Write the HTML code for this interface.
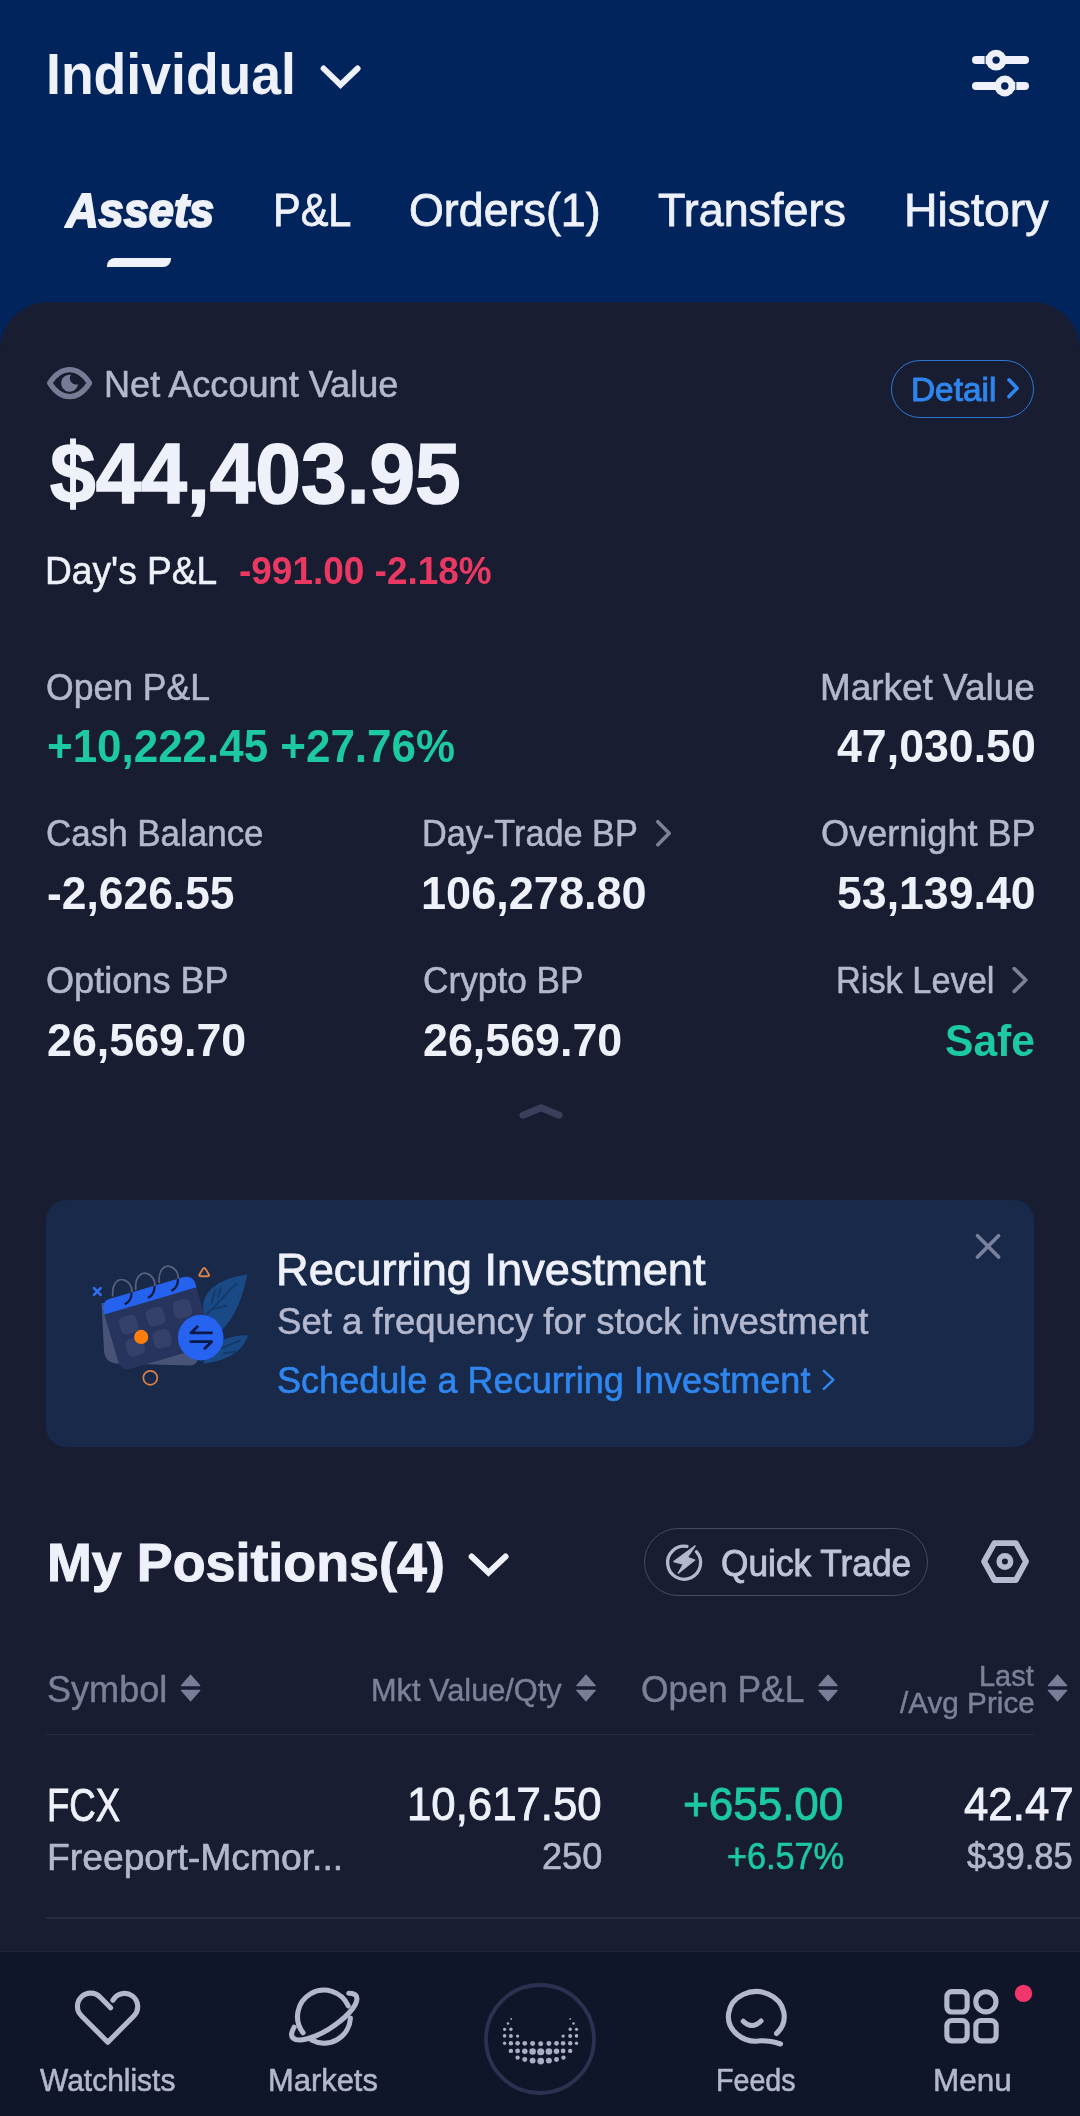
<!DOCTYPE html>
<html><head><meta charset="utf-8"><title>Webull - Assets</title>
<style>
*{margin:0;padding:0;box-sizing:border-box}
html,body{width:1080px;height:2116px;overflow:hidden;background:#02245c}
body{position:relative;font-family:"Liberation Sans",sans-serif}
.t{position:absolute;white-space:nowrap;transform-origin:0 0;display:block}
.abs{position:absolute}
#header{left:0;top:0;width:1080px;height:360px;background:#02245c}
#panel{left:0;top:302px;width:1080px;height:1814px;background:#181d31;border-radius:48px 48px 0 0}
#underline{left:107px;top:258px;width:64.4px;height:9px;background:#eef1fa;border-radius:8px 0 8px 0}
#detailbtn{left:891px;top:360px;width:143px;height:58px;border:1.6px solid #2e77d8;border-radius:29px}
#card{left:46px;top:1200px;width:988px;height:247px;background:#19294a;border-radius:20px}
#quickbtn{left:644px;top:1528px;width:284px;height:68px;border:1.5px solid #434a63;border-radius:34px}
#hdiv{left:46px;top:1733.5px;width:988px;height:1.3px;background:#262c44}
#rdiv{left:46px;top:1917.4px;width:1034px;height:1.3px;background:#262c44}
#nav{left:0;top:1951px;width:1080px;height:165px;background:#10162a;border-top:1.4px solid #1e243a}
#txt{left:0;top:0;width:1080px;height:2116px;will-change:transform}
#icons{left:0;top:0;width:1080px;height:2116px}
</style></head>
<body>
<div class="abs" id="header"></div>
<div class="abs" id="panel"></div>
<div class="abs" id="underline"></div>
<div class="abs" id="detailbtn"></div>
<div class="abs" id="card"></div>
<div class="abs" id="quickbtn"></div>
<div class="abs" id="hdiv"></div>
<div class="abs" id="rdiv"></div>
<div class="abs" id="nav"></div>
<svg class="abs" id="icons" width="1080" height="2116" viewBox="0 0 1080 2116" fill="none">
<path d="M204.5 1315 C198 1296 214 1279 247.3 1274.5 C243 1296 236 1316 222 1330 Z" fill="#194a86"/>
<path d="M207 1314 L236 1284 M211.5 1303 L215 1291 M214 1309 L226 1305.5 M218 1297 L221 1288" stroke="#153a6c" stroke-width="2" stroke-linecap="round"/>
<path d="M203 1363.5 C210 1344 226 1335 248 1335.3 C243 1351 228 1361 203 1363.5Z" fill="#194a86"/>
<path d="M222 1348 L240 1340.5 M224 1353.5 L236 1351.5" stroke="#153a6c" stroke-width="2" stroke-linecap="round"/>
<path d="M101.5 1303 L104 1350 Q104.5 1362 116 1363.5 L190 1365.5 Q197 1365.5 198 1358 L185 1300 Z" fill="#475377"/>
<g transform="translate(100.6 1301.6) rotate(-16.4)">
<rect x="0" y="0" width="96" height="73" rx="9" fill="#27345d"/>
<path d="M0 13.4 V9 a9 9 0 0 1 9 -9 H87 a9 9 0 0 1 9 9 V13.4 Z" fill="#2563ee"/>
<rect x="11.5" y="21" width="18" height="18" rx="5.5" fill="#36416b"/>
<rect x="39.5" y="21" width="18" height="18" rx="5.5" fill="#36416b"/>
<rect x="67.5" y="21" width="18" height="18" rx="5.5" fill="#36416b"/>
<rect x="11.5" y="44" width="18" height="18" rx="5.5" fill="#36416b"/>
<rect x="39.5" y="44" width="18" height="18" rx="5.5" fill="#36416b"/>
</g>
<circle cx="141.2" cy="1336.9" r="7.1" fill="#ff7d0c"/>
<path d="M112.7 1295.8 C111.8 1283.3 118.3 1278.3 123.3 1279.8 C129.3 1281.3 132.8 1287.3 131.6 1293.3" stroke="#59617f" stroke-width="1.7" stroke-linecap="round"/>
<path d="M131.6 1293.3 C131.3 1298.3 128.8 1302.3 125.6 1303.8" stroke="#0e1a3c" stroke-width="2.2" stroke-linecap="round"/>
<path d="M135.7 1289.4 C134.8 1276.9 141.3 1271.9 146.3 1273.4 C152.3 1274.9 155.8 1280.9 154.6 1286.9" stroke="#59617f" stroke-width="1.7" stroke-linecap="round"/>
<path d="M154.6 1286.9 C154.3 1291.9 151.8 1295.9 148.6 1297.4" stroke="#0e1a3c" stroke-width="2.2" stroke-linecap="round"/>
<path d="M159.1 1282.4 C158.2 1269.9 164.7 1264.9 169.7 1266.4 C175.7 1267.9 179.2 1273.9 178.0 1279.9" stroke="#59617f" stroke-width="1.7" stroke-linecap="round"/>
<path d="M178.0 1279.9 C177.7 1284.9 175.2 1288.9 172.0 1290.4" stroke="#0e1a3c" stroke-width="2.2" stroke-linecap="round"/>
<circle cx="200.7" cy="1337.6" r="22.8" fill="#2563f0"/>
<path d="M197.3 1326.8 L190.8 1332.9 H211.6 M211.6 1341.7 H190.8 M211.6 1341.7 L204.8 1348.6" stroke="#0c1948" stroke-width="2.8" stroke-linecap="round" stroke-linejoin="round"/>
<path d="M94 1288.2 L100.6 1294.8 M100.6 1288.2 L94 1294.8" stroke="#2f6ff0" stroke-width="2.6" stroke-linecap="round"/>
<path d="M202.5 1269.6 Q204.2 1266.4 205.9 1269.6 L208.7 1274.2 Q209.9 1276.3 207.4 1276.3 H201 Q198.5 1276.3 199.7 1274.2 Z" stroke="#d9804a" stroke-width="1.9" stroke-linejoin="round"/>
<circle cx="150.3" cy="1377.8" r="7" stroke="#d9804a" stroke-width="1.7"/>
<path d="M323.6 68.5 L340.5 84.8 L357.6 68.5" stroke="#eef1fa" stroke-width="5.9" stroke-linecap="round" stroke-linejoin="miter"/>
<g stroke="#eef1fa" stroke-width="8" stroke-linecap="round"><path d="M976 60.1H1025"/><path d="M976 86H1025"/></g>
<g fill="#eef1fa"><circle cx="996.1" cy="60.1" r="10.4"/><circle cx="1004.8" cy="86" r="10.4"/></g>
<g fill="#02245c"><circle cx="996.1" cy="60.1" r="3.7"/><circle cx="1004.8" cy="86" r="3.7"/><rect x="984.6" y="55" width="1" height="10.2"/><rect x="1015.3" y="81" width="1" height="10.2"/></g>
<path d="M49.6 383 C56 373 62 369.6 69.6 369.6 S83.2 373 89.6 383 C83.2 393 77.2 396.6 69.6 396.6 S56 393 49.6 383Z" stroke="#767c95" stroke-width="5.2" stroke-linejoin="round"/>
<path d="M71.06 374.83 A8.5 8.5 0 1 0 78.05 384.15 A6.1 6.1 0 0 1 71.06 374.83Z" fill="#767c95"/>
<path d="M1009 379.8 L1017.1 388.2 L1009 396.6" stroke="#2f86ee" stroke-width="3.6" stroke-linecap="round" stroke-linejoin="round"/>
<path d="M657.8 821.7 L669.2 833.2 L657.8 844.7" stroke="#7b8199" stroke-width="3.6" stroke-linecap="round" stroke-linejoin="round"/>
<path d="M1014.2 968.6 L1025.8 980 L1014.2 991.4" stroke="#7b8199" stroke-width="3.6" stroke-linecap="round" stroke-linejoin="round"/>
<path d="M523 1115.2 L541.2 1107.7 L559 1115.2" stroke="#3a3f5a" stroke-width="7" stroke-linecap="round" stroke-linejoin="round"/>
<path d="M977.5 1235.8 L998.6 1257 M998.6 1235.8 L977.5 1257" stroke="#7a819c" stroke-width="3.7" stroke-linecap="round"/>
<path d="M823.8 1370.8 L833.4 1379.8 L823.8 1388.8" stroke="#2f86ee" stroke-width="2.5" stroke-linecap="round" stroke-linejoin="round"/>
<path d="M471.6 1556.5 L488.5 1572.7 L505.6 1556.5" stroke="#eef1fa" stroke-width="5.9" stroke-linecap="round" stroke-linejoin="miter"/>
<path d="M696.36 1551.66 A16.5 16.5 0 1 1 686.97 1546.45" stroke="#b3b8ce" stroke-width="3.3" stroke-linecap="round"/>
<path d="M695.2 1545.8 L687.5 1557.2 L694.8 1560 L678.2 1573.3 L683.2 1564.2 L673.8 1561.6Z" fill="#b3b8ce" stroke="#b3b8ce" stroke-width="1.2" stroke-linejoin="round"/>
<path d="M984.1 1561.5 L994.4 1543.1 H1015.9 L1026 1561.5 L1015.9 1580 H994.4Z" stroke="#b6bbd2" stroke-width="5.8" stroke-linejoin="round"/>
<circle cx="1004.9" cy="1561.5" r="5.75" stroke="#b6bbd2" stroke-width="5.5"/>
<path d="M190.6 1675.2 L199.79999999999998 1685.6 H181.4Z M181.4 1690.3 H199.79999999999998 L190.6 1700.8Z" fill="#787e98" stroke="#787e98" stroke-width="1.2" stroke-linejoin="round"/>
<path d="M586 1675.2 L595.2 1685.6 H576.8Z M576.8 1690.3 H595.2 L586 1700.8Z" fill="#787e98" stroke="#787e98" stroke-width="1.2" stroke-linejoin="round"/>
<path d="M828 1675.2 L837.2 1685.6 H818.8Z M818.8 1690.3 H837.2 L828 1700.8Z" fill="#787e98" stroke="#787e98" stroke-width="1.2" stroke-linejoin="round"/>
<path d="M1057.5 1675.2 L1066.7 1685.6 H1048.3Z M1048.3 1690.3 H1066.7 L1057.5 1700.8Z" fill="#787e98" stroke="#787e98" stroke-width="1.2" stroke-linejoin="round"/>
<path transform="translate(0 1.3)" d="M110.6 2006.4 L100.23 1995.97 A13.2 13.2 0 1 0 81.57 2014.63 L107.8 2040.9 L133.83 2014.63 A13.2 13.2 0 1 0 112.9 1999" stroke="#b3b8ce" stroke-width="5.1" stroke-linecap="round" stroke-linejoin="round"/>
<path d="M348.21 2005.82 A26.5 26.5 0 1 0 303.00 2032.77 M350.46 2017.99 A26.5 26.5 0 0 1 311.56 2040.00" stroke="#b3b8ce" stroke-width="5.1" stroke-linecap="round"/>
<path d="M294.13 2027.30 A38 13 -33 1 0 348.74 1993.21" stroke="#b3b8ce" stroke-width="5.1" stroke-linecap="round"/>
<circle cx="540" cy="2039" r="54" stroke="#2b3250" stroke-width="3.8"/>
<g fill="#a9aec6"><circle cx="511.3" cy="2018.9" r="0.89"/><circle cx="570.2" cy="2018.9" r="0.89"/><circle cx="508.0" cy="2023.5" r="1.29"/><circle cx="573.5" cy="2023.5" r="1.29"/><circle cx="504.6" cy="2029.3" r="1.59"/><circle cx="510.9" cy="2029.3" r="1.68"/><circle cx="570.2" cy="2029.3" r="1.68"/><circle cx="576.5" cy="2029.3" r="1.59"/><circle cx="504.6" cy="2035.9" r="1.78"/><circle cx="510.9" cy="2035.9" r="1.98"/><circle cx="517.6" cy="2036.1" r="1.68"/><circle cx="563.1" cy="2036.1" r="1.68"/><circle cx="570.2" cy="2035.9" r="1.98"/><circle cx="576.5" cy="2035.9" r="1.78"/><circle cx="504.6" cy="2043.3" r="1.68"/><circle cx="510.9" cy="2043.3" r="2.18"/><circle cx="517.6" cy="2043.3" r="2.28"/><circle cx="524.8" cy="2043.3" r="2.38"/><circle cx="532.6" cy="2043.5" r="2.48"/><circle cx="540.7" cy="2043.7" r="2.48"/><circle cx="548.9" cy="2043.5" r="2.48"/><circle cx="556.5" cy="2043.3" r="2.38"/><circle cx="563.1" cy="2043.3" r="2.28"/><circle cx="570.2" cy="2043.3" r="2.18"/><circle cx="576.5" cy="2043.3" r="1.68"/><circle cx="510.9" cy="2050.9" r="2.18"/><circle cx="517.6" cy="2050.9" r="2.38"/><circle cx="524.8" cy="2051.3" r="2.77"/><circle cx="532.6" cy="2051.5" r="3.27"/><circle cx="540.7" cy="2051.7" r="3.57"/><circle cx="548.9" cy="2051.5" r="3.27"/><circle cx="556.5" cy="2051.3" r="2.77"/><circle cx="563.1" cy="2050.9" r="2.38"/><circle cx="570.2" cy="2050.9" r="2.18"/><circle cx="517.6" cy="2057.6" r="2.18"/><circle cx="524.8" cy="2059.4" r="2.48"/><circle cx="532.6" cy="2060.6" r="2.97"/><circle cx="540.7" cy="2061.1" r="3.37"/><circle cx="548.9" cy="2060.6" r="2.97"/><circle cx="556.5" cy="2059.4" r="2.48"/><circle cx="563.5" cy="2057.6" r="2.18"/></g>
<path d="M776.57 2033.44 A27.9 24.8 0 1 0 761.14 2040.82 Q770 2040.6 780.5 2044" stroke="#b3b8ce" stroke-width="5.1" stroke-linecap="round" stroke-linejoin="round"/>
<path d="M743.2 2021.2 Q751.8 2030 761 2021" stroke="#b3b8ce" stroke-width="5" stroke-linecap="round"/>
<g stroke="#b3b8ce" stroke-width="5.1"><rect x="946.85" y="1991.65" width="20.3" height="20.4" rx="5"/><rect x="946.85" y="2020.55" width="20.3" height="20.3" rx="5"/><rect x="975.85" y="2020.55" width="20.3" height="20.3" rx="5"/><circle cx="985.9" cy="2001.8" r="10.1"/></g>
<circle cx="1023.5" cy="1993.4" r="8.7" fill="#f0366a"/>
</svg>
<div class="abs" id="txt">
<span class="t" id="individual" style="left:45.65px;top:39.00px;font-size:58px;line-height:70px;font-weight:700;color:#eef1fa;transform:scaleX(0.9236);">Individual</span>
<span class="t" id="t_assets" style="left:65.65px;top:181.50px;font-size:48px;line-height:58px;font-weight:700;color:#eef1fa;transform:scaleX(0.9409);font-style:italic;-webkit-text-stroke:2.0px #eef1fa;">Assets</span>
<span class="t" id="t_pl" style="left:272.92px;top:183.00px;font-size:46px;line-height:55px;font-weight:400;color:#eef1fa;transform:scaleX(0.9023);-webkit-text-stroke:0.8px #eef1fa;">P&amp;L</span>
<span class="t" id="t_orders" style="left:409.29px;top:183.00px;font-size:46px;line-height:55px;font-weight:400;color:#eef1fa;transform:scaleX(0.9738);-webkit-text-stroke:0.8px #eef1fa;">Orders(1)</span>
<span class="t" id="t_transfers" style="left:658.19px;top:183.00px;font-size:46px;line-height:55px;font-weight:400;color:#eef1fa;transform:scaleX(0.9754);-webkit-text-stroke:0.8px #eef1fa;">Transfers</span>
<span class="t" id="t_history" style="left:904.28px;top:183.00px;font-size:46px;line-height:55px;font-weight:400;color:#eef1fa;transform:scaleX(1.0084);-webkit-text-stroke:0.8px #eef1fa;">History</span>
<span class="t" id="nav_label" style="left:104.25px;top:362.50px;font-size:37px;line-height:44px;font-weight:400;color:#b3b8ce;transform:scaleX(0.9757);-webkit-text-stroke:0.55px #b3b8ce;">Net Account Value</span>
<span class="t" id="nav_value" style="left:49.56px;top:421.70px;font-size:86px;line-height:103px;font-weight:700;color:#eef1fa;transform:scaleX(0.9542);-webkit-text-stroke:1.6px #eef1fa;">$44,403.95</span>
<span class="t" id="days_pl" style="left:45.37px;top:548.00px;font-size:38px;line-height:46px;font-weight:400;color:#eef1fa;transform:scaleX(0.9777);-webkit-text-stroke:0.55px #eef1fa;">Day's P&amp;L</span>
<span class="t" id="days_val" style="left:238.85px;top:548.00px;font-size:38px;line-height:46px;font-weight:700;color:#ea3863;transform:scaleX(0.9724);">-991.00 -2.18%</span>
<span class="t" id="detail" style="left:910.68px;top:368.50px;font-size:34px;line-height:41px;font-weight:400;color:#2f86ee;transform:scaleX(0.9816);-webkit-text-stroke:1.0px #2f86ee;">Detail</span>
<span class="t" id="l_open" style="left:45.60px;top:665.50px;font-size:37px;line-height:44px;font-weight:400;color:#b3b8ce;transform:scaleX(0.9607);-webkit-text-stroke:0.55px #b3b8ce;">Open P&amp;L</span>
<span class="t" id="v_open" style="left:46.63px;top:719.20px;font-size:45.5px;line-height:55px;font-weight:700;color:#1cc9a1;transform:scaleX(0.9656);">+10,222.45 +27.76%</span>
<span class="t" id="l_mv" style="left:820.39px;top:665.50px;font-size:37px;line-height:44px;font-weight:400;color:#b3b8ce;transform:scaleX(0.9981);-webkit-text-stroke:0.55px #b3b8ce;">Market Value</span>
<span class="t" id="v_mv" style="left:837.00px;top:719.20px;font-size:45.5px;line-height:55px;font-weight:700;color:#eef1fa;transform:scaleX(0.9822);">47,030.50</span>
<span class="t" id="l_cash" style="left:45.62px;top:811.50px;font-size:37px;line-height:44px;font-weight:400;color:#b3b8ce;transform:scaleX(0.9443);-webkit-text-stroke:0.55px #b3b8ce;">Cash Balance</span>
<span class="t" id="v_cash" style="left:46.61px;top:865.90px;font-size:45.5px;line-height:55px;font-weight:700;color:#eef1fa;transform:scaleX(0.9752);">-2,626.55</span>
<span class="t" id="l_dt" style="left:422.38px;top:811.50px;font-size:37px;line-height:44px;font-weight:400;color:#b3b8ce;transform:scaleX(0.9261);-webkit-text-stroke:0.55px #b3b8ce;">Day-Trade BP</span>
<span class="t" id="v_dt" style="left:421.18px;top:865.90px;font-size:45.5px;line-height:55px;font-weight:700;color:#eef1fa;transform:scaleX(0.9909);">106,278.80</span>
<span class="t" id="l_on" style="left:820.58px;top:811.50px;font-size:37px;line-height:44px;font-weight:400;color:#b3b8ce;transform:scaleX(0.9756);-webkit-text-stroke:0.55px #b3b8ce;">Overnight BP</span>
<span class="t" id="v_on" style="left:837.30px;top:865.90px;font-size:45.5px;line-height:55px;font-weight:700;color:#eef1fa;transform:scaleX(0.9807);">53,139.40</span>
<span class="t" id="l_opt" style="left:45.58px;top:958.50px;font-size:37px;line-height:44px;font-weight:400;color:#b3b8ce;transform:scaleX(0.9761);-webkit-text-stroke:0.55px #b3b8ce;">Options BP</span>
<span class="t" id="v_opt" style="left:46.60px;top:1012.50px;font-size:45.5px;line-height:55px;font-weight:700;color:#eef1fa;transform:scaleX(0.9842);">26,569.70</span>
<span class="t" id="l_cr" style="left:422.61px;top:958.50px;font-size:37px;line-height:44px;font-weight:400;color:#b3b8ce;transform:scaleX(0.9525);-webkit-text-stroke:0.55px #b3b8ce;">Crypto BP</span>
<span class="t" id="v_cr" style="left:422.60px;top:1012.50px;font-size:45.5px;line-height:55px;font-weight:700;color:#eef1fa;transform:scaleX(0.9842);">26,569.70</span>
<span class="t" id="l_risk" style="left:836.47px;top:959.00px;font-size:37px;line-height:44px;font-weight:400;color:#b3b8ce;transform:scaleX(0.9283);-webkit-text-stroke:0.55px #b3b8ce;">Risk Level</span>
<span class="t" id="v_risk" style="left:944.93px;top:1014.00px;font-size:45px;line-height:54px;font-weight:700;color:#1cc9a1;transform:scaleX(0.9460);">Safe</span>
<span class="t" id="c_title" style="left:275.88px;top:1243.00px;font-size:44px;line-height:53px;font-weight:400;color:#eef1fa;transform:scaleX(1.0272);-webkit-text-stroke:0.8px #eef1fa;">Recurring Investment</span>
<span class="t" id="c_sub" style="left:277.11px;top:1300.00px;font-size:36px;line-height:43px;font-weight:400;color:#b3b8ce;transform:scaleX(1.0159);-webkit-text-stroke:0.5px #b3b8ce;">Set a frequency for stock investment</span>
<span class="t" id="c_link" style="left:277.17px;top:1358.50px;font-size:36px;line-height:43px;font-weight:400;color:#2f86ee;transform:scaleX(1.0021);-webkit-text-stroke:0.6px #2f86ee;">Schedule a Recurring Investment</span>
<span class="t" id="pos_title" style="left:46.63px;top:1530.30px;font-size:54px;line-height:65px;font-weight:700;color:#eef1fa;transform:scaleX(0.9969);-webkit-text-stroke:1.0px #eef1fa;">My Positions(4)</span>
<span class="t" id="quick" style="left:721.19px;top:1542.00px;font-size:36px;line-height:43px;font-weight:400;color:#bfc4da;transform:scaleX(0.9798);-webkit-text-stroke:0.9px #bfc4da;">Quick Trade</span>
<span class="t" id="h_sym" style="left:46.89px;top:1667.50px;font-size:37px;line-height:44px;font-weight:400;color:#7b8199;transform:scaleX(0.9748);-webkit-text-stroke:0.45px #7b8199;">Symbol</span>
<span class="t" id="h_mkt" style="left:371.12px;top:1672.00px;font-size:31px;line-height:37px;font-weight:400;color:#7b8199;transform:scaleX(0.9911);-webkit-text-stroke:0.45px #7b8199;">Mkt Value/Qty</span>
<span class="t" id="h_open" style="left:641.26px;top:1667.50px;font-size:37px;line-height:44px;font-weight:400;color:#7b8199;transform:scaleX(0.9571);-webkit-text-stroke:0.45px #7b8199;">Open P&amp;L</span>
<span class="t" id="h_last" style="left:978.96px;top:1658.80px;font-size:29px;line-height:35px;font-weight:400;color:#7b8199;transform:scaleX(0.9982);-webkit-text-stroke:0.45px #7b8199;">Last</span>
<span class="t" id="h_avg" style="left:900.23px;top:1685.80px;font-size:29px;line-height:35px;font-weight:400;color:#7b8199;transform:scaleX(1.0236);-webkit-text-stroke:0.45px #7b8199;">/Avg Price</span>
<span class="t" id="r_sym" style="left:47.01px;top:1777.50px;font-size:45.5px;line-height:55px;font-weight:400;color:#eef1fa;transform:scaleX(0.8024);-webkit-text-stroke:0.9px #eef1fa;">FCX</span>
<span class="t" id="r_name" style="left:46.89px;top:1836.00px;font-size:36.5px;line-height:44px;font-weight:400;color:#b3b8ce;transform:scaleX(1.0212);-webkit-text-stroke:0.6px #b3b8ce;">Freeport-Mcmor...</span>
<span class="t" id="r_mkt" style="left:407.19px;top:1776.50px;font-size:46px;line-height:55px;font-weight:400;color:#eef1fa;transform:scaleX(0.9515);-webkit-text-stroke:0.9px #eef1fa;">10,617.50</span>
<span class="t" id="r_qty" style="left:541.61px;top:1834.50px;font-size:36px;line-height:43px;font-weight:400;color:#b3b8ce;transform:scaleX(1.0029);-webkit-text-stroke:0.6px #b3b8ce;">250</span>
<span class="t" id="r_pl" style="left:683.37px;top:1776.50px;font-size:46px;line-height:55px;font-weight:400;color:#1cc9a1;transform:scaleX(0.9567);-webkit-text-stroke:0.9px #1cc9a1;">+655.00</span>
<span class="t" id="r_plp" style="left:726.68px;top:1834.50px;font-size:36px;line-height:43px;font-weight:400;color:#1cc9a1;transform:scaleX(0.9509);-webkit-text-stroke:0.6px #1cc9a1;">+6.57%</span>
<span class="t" id="r_last" style="left:963.74px;top:1776.50px;font-size:46px;line-height:55px;font-weight:400;color:#eef1fa;transform:scaleX(0.9521);-webkit-text-stroke:0.9px #eef1fa;">42.47</span>
<span class="t" id="r_avg" style="left:967.29px;top:1834.50px;font-size:36px;line-height:43px;font-weight:400;color:#b3b8ce;transform:scaleX(0.9611);-webkit-text-stroke:0.6px #b3b8ce;">$39.85</span>
<span class="t" id="n_watch" style="left:40.27px;top:2062.00px;font-size:31px;line-height:37px;font-weight:400;color:#b3b8ce;transform:scaleX(0.9666);-webkit-text-stroke:0.55px #b3b8ce;">Watchlists</span>
<span class="t" id="n_mark" style="left:267.86px;top:2062.00px;font-size:31px;line-height:37px;font-weight:400;color:#b3b8ce;transform:scaleX(0.9963);-webkit-text-stroke:0.55px #b3b8ce;">Markets</span>
<span class="t" id="n_feeds" style="left:716.02px;top:2062.00px;font-size:31px;line-height:37px;font-weight:400;color:#b3b8ce;transform:scaleX(0.9242);-webkit-text-stroke:0.55px #b3b8ce;">Feeds</span>
<span class="t" id="n_menu" style="left:932.82px;top:2062.00px;font-size:31px;line-height:37px;font-weight:400;color:#b3b8ce;transform:scaleX(1.0144);-webkit-text-stroke:0.55px #b3b8ce;">Menu</span>
</div>
</body></html>
